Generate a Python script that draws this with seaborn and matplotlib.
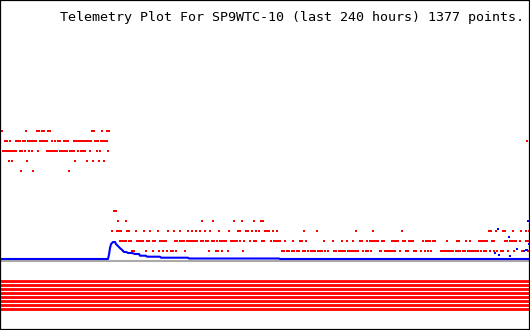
import matplotlib
matplotlib.use("Agg")
import matplotlib.pyplot as plt
import seaborn as sns
import pandas as pd

# ---------------- data (time in hours, channel value) ----------------
title = "Telemetry Plot For SP9WTC-10 (last 240 hours) 1377 points."

red_20 = [0.9, 11.8, 16.8, 17.7, 19.1, 20.0, 21.8, 22.7, 41.7, 42.6, 46.3, 48.5, 49.5]
red_19 = [2.3, 3.2, 4.5, 7.3, 8.2, 9.1, 10.4, 11.3, 12.7, 13.6, 14.5, 15.4, 16.3, 18.1,
          19.1, 19.5, 20.4, 21.3, 23.6, 25.0, 26.3, 27.2, 29.0, 29.9, 30.9, 33.6, 34.5,
          35.4, 36.3, 36.7, 37.7, 38.6, 39.5, 40.4, 41.3, 43.1, 44.0, 44.5, 45.8, 46.7,
          47.6, 48.5, 239.1]
red_18 = [1.4, 2.3, 3.2, 4.1, 5.0, 5.9, 6.8, 7.3, 9.1, 10.0, 11.3, 13.2, 14.5, 17.2, 21.3,
          22.2, 23.1, 24.0, 25.0, 25.9, 27.2, 28.1, 28.6, 29.5, 30.4, 31.8, 32.7, 33.6,
          35.4, 36.7, 37.7, 38.6, 40.8, 44.0, 45.4, 49.0]
red_17 = [4.1, 5.4, 12.3, 34.0, 39.5, 42.2, 44.9, 47.2]
red_16 = [9.5, 15.0, 31.3]
red_12 = [51.7, 52.6]
red_11 = [53.5, 57.2, 91.6, 96.6, 106.2, 109.8, 115.2, 118.4, 119.3]
red_10 = [50.8, 53.1, 54.0, 54.9, 57.6, 58.5, 61.7, 65.3, 68.1, 71.7, 76.2, 78.9, 81.7,
          85.3, 87.1, 88.9, 90.7, 93.0, 95.3, 99.4, 103.9, 108.0, 108.9, 111.6, 112.5,
          114.3, 116.1, 117.5, 120.2, 121.1, 122.0, 123.9, 125.7, 137.9, 143.8, 161.5,
          169.2, 182.4, 221.9, 222.8, 225.0, 228.2, 229.1, 232.7, 236.4, 238.6, 239.8]
red_9 = [54.4, 55.4, 56.3, 57.2, 58.5, 59.4, 62.2, 63.1, 64.0, 64.9, 66.7, 67.6, 69.4,
         70.3, 72.6, 73.5, 74.4, 75.3, 79.4, 80.3, 81.7, 82.6, 83.5, 84.8, 85.7, 86.7,
         87.6, 88.5, 89.4, 91.2, 92.1, 93.5, 94.4, 96.2, 97.1, 98.5, 99.8, 100.7, 101.6,
         102.5, 104.8, 105.7, 106.6, 107.5, 108.9, 110.7, 113.4, 115.2, 116.1, 118.9,
         119.8, 123.0, 124.3, 125.2, 126.1, 127.0, 129.3, 132.9, 136.1, 137.0, 138.8,
         147.0, 151.1, 155.2, 157.4, 160.2, 163.3, 164.2, 166.5, 167.9, 168.8, 169.7,
         170.6, 171.5, 173.3, 174.2, 177.9, 178.8, 179.7, 180.6, 182.8, 183.7, 185.6,
         186.5, 187.4, 191.9, 193.3, 194.2, 195.1, 196.4, 197.4, 202.8, 207.3, 208.2,
         211.4, 213.2, 217.3, 218.2, 219.1, 220.0, 221.0, 223.2, 224.1, 229.1, 230.0,
         231.4, 232.3, 233.2, 234.1, 235.9, 238.6, 239.6]
red_8 = [55.8, 59.9, 60.8, 66.2, 69.4, 72.1, 74.0, 75.8, 77.6, 78.5, 79.9, 83.9, 94.8,
         98.0, 98.9, 100.7, 103.4, 110.2, 127.9, 128.9, 130.2, 131.1, 132.5, 133.4, 134.7,
         135.7, 137.5, 138.4, 139.7, 141.1, 142.0, 142.9, 144.3, 145.2, 146.1, 147.5,
         148.8, 151.5, 152.4, 153.8, 154.7, 155.6, 156.5, 157.9, 158.8, 159.7, 160.6,
         161.5, 162.4, 164.7, 166.1, 167.0, 168.3, 172.4, 172.9, 174.7, 175.6, 176.5,
         177.4, 178.3, 179.2, 181.5, 184.2, 185.1, 187.8, 188.7, 191.0, 192.8, 194.2,
         195.5, 200.1, 201.0, 201.9, 202.8, 203.7, 204.6, 205.5, 206.9, 207.8, 208.7,
         210.1, 211.0, 212.3, 213.2, 214.1, 215.1, 216.0, 216.9, 218.2, 219.6, 220.5,
         222.3, 224.1, 225.5, 227.3, 228.2, 230.5, 233.2, 236.8, 237.7, 239.6]
red_levels = [20, 19, 18, 17, 16, 12, 11, 10, 9, 8]
red_rows = [red_20, red_19, red_18, red_17, red_16, red_12, red_11, red_10, red_9, red_8]

# digital bits: always-on channels
bit_levels = [5.0, 4.6, 4.2, 3.8, 3.4, 3.0, 2.6, 2.2]
span_hours = [0.0, 240.5]

# analog channel (blue)
blue_hours = [0.0, 49.0, 49.5, 49.9, 50.4, 51.3, 52.2, 52.6, 53.5, 54.4, 55.4, 56.3,
              57.2, 58.1, 59.9, 61.2, 63.1, 63.5, 66.2, 66.7, 72.6, 73.0, 85.3, 85.7,
              126.6, 127.0, 240.5]
blue_vals = [7.2, 7.2, 7.7, 8.3, 8.7, 8.9, 8.9, 8.7, 8.5, 8.3, 8.1, 7.9, 7.9, 7.8, 7.8,
             7.7, 7.7, 7.53, 7.53, 7.43, 7.43, 7.33, 7.33, 7.25, 7.25, 7.2, 7.2]
blue_pt_hours = [224.6, 225.9, 226.4, 230.9, 231.4, 234.6, 237.7, 238.6, 239.1, 239.6, 240.0]
blue_pt_vals = [7.8, 10.2, 7.6, 9.4, 7.5, 8.2, 8.0, 8.1, 8.1, 11.0, 8.7]

# reference level (gray)
gray_level = 7.0

# ---------------- build tables ----------------
red_df = pd.DataFrame({
    "hours": [h for row in red_rows for h in row],
    "value": [lvl for lvl, row in zip(red_levels, red_rows) for _ in row],
})
bits_df = pd.DataFrame({
    "hours": [h for _ in bit_levels for h in span_hours],
    "value": [lvl for lvl in bit_levels for _ in span_hours],
    "bit": [i for i, _ in enumerate(bit_levels) for _ in span_hours],
})
blue_df = pd.DataFrame({"hours": blue_hours, "value": blue_vals})
blue_pts = pd.DataFrame({"hours": blue_pt_hours, "value": blue_pt_vals})
gray_df = pd.DataFrame({"hours": span_hours, "value": [gray_level] * len(span_hours)})

# ---------------- draw ----------------
sns.set_theme(style="white")
plt.rcParams['font.family'] = ['DejaVu Sans Mono', 'DejaVu Sans']

fig = plt.figure(figsize=(5.3, 3.3), dpi=100)
ax = fig.add_axes([0, 0, 1, 1])
ax.set_facecolor("white")

sns.lineplot(data=gray_df, x="hours", y="value", color="#aaaaaa", linewidth=1.5,
             estimator=None, ax=ax)
sns.lineplot(data=bits_df, x="hours", y="value", units="bit", estimator=None,
             color="#ff0000", linewidth=2.0, ax=ax)
sns.scatterplot(data=red_df, x="hours", y="value", color="#ff0000", marker="s", s=3.0,
                linewidth=0, ax=ax)
sns.lineplot(data=blue_df, x="hours", y="value", color="#0000ff", linewidth=1.5,
             estimator=None, sort=False, ax=ax)
sns.scatterplot(data=blue_pts, x="hours", y="value", color="#0000ff", marker="s", s=3.0,
                linewidth=0, ax=ax)

ax.set_xlim(0, 240.45)
ax.set_ylim(0.1, 33.1)
ax.set_xticks([])
ax.set_yticks([])
ax.set_xlabel("")
ax.set_ylabel("")
for sp in ax.spines.values():
    sp.set_visible(True)
    sp.set_color("black")
    sp.set_linewidth(1.6)

ax.text(0.551, 1 - 20.7 / 330, title, transform=ax.transAxes, ha="center",
        va="baseline", fontsize=9.6, color="black", family=["DejaVu Sans Mono"])

fig.savefig("out.png", dpi=100, facecolor="white")
